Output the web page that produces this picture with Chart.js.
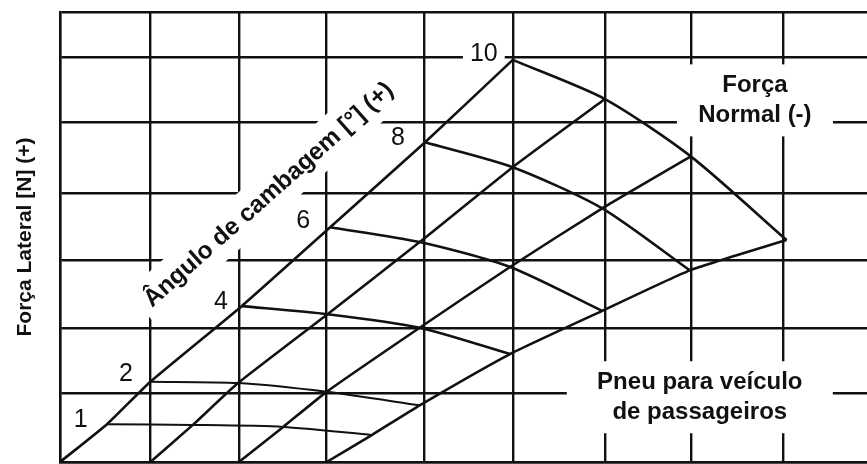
<!DOCTYPE html>
<html>
<head>
<meta charset="utf-8">
<script src="https://cdn.jsdelivr.net/npm/chart.js@4.4.1/dist/chart.umd.min.js"></script>
<style>
  html, body { margin: 0; padding: 0; background: #fff; }
  #chart { display: block; }
</style>
</head>
<body>
<canvas id="chart" width="867" height="464"></canvas>
<script>
// Ângulo de cambagem [°] de cada curva
const camberAngles = [1, 2, 4, 6, 8, 10];

// Nós da malha (unidades de grade): uma linha por ângulo, uma coluna por força normal
const nodeX = [
  [0.52, 1.47, 2.47, 3.45],
  [1.00, 1.97, 2.95, 3.98],
  [2.01, 2.96, 3.98, 4.98],
  [2.99, 3.98, 4.98, 6.00],
  [4.04, 5.01, 6.00, 6.97],
  [5.01, 6.03, 6.98, 8.04]
];
const nodeY = [
  [0.56, 0.55, 0.52, 0.40],
  [1.19, 1.17, 1.04, 0.84],
  [2.31, 2.19, 1.99, 1.60],
  [3.48, 3.26, 2.89, 2.24],
  [4.74, 4.37, 3.76, 2.84],
  [5.96, 5.38, 4.53, 3.29]
];
// onde cada linha de força normal chega ao eixo (cambagem 0)
const baseX = [0, 1.00, 1.98, 2.95];

// linhas da grade
const gridX = [0, 1.00, 1.98, 2.95, 4.03, 5.01, 6.03, 6.98, 8.00];
const gridY = [0, 1.02, 1.99, 2.99, 3.99, 5.04, 6.00, 6.67];

// posição dos números de cambagem
const numberX = [0.23, 0.73, 1.78, 2.69, 3.74, 4.69];
const numberY = [0.64, 1.32, 2.39, 3.59, 4.81, 6.06];

const LABEL_FONT = "bold 24px 'Liberation Sans'";
const TITLE_FONT = "bold 24.5px 'Liberation Sans'";
const NUMBER_FONT = "25px 'Liberation Sans'";
const INK = "#111";

const notes = [
  { lines: ["Força", "Normal (-)"], x: 7.69, y: 5.36, box: [156, 72] },
  { lines: ["Pneu para veículo", "de passageiros"], x: 7.08, y: 0.96, box: [266, 72] }
];
const camberTitle = { text: "Ângulo de cambagem [°] (+)", x: 2.31, y: 3.96, angle: -41.7 };

// curvas de cambagem constante
const camberSets = camberAngles.map((c, i) => ({
  label: c + "°",
  data: nodeX[i].map((x, j) => ({ x, y: nodeY[i][j] })),
  showLine: true,
  borderColor: INK,
  borderWidth: c <= 2 ? 2 : 2.6,
  pointRadius: 0,
  tension: 0.25
}));

// curvas de força normal constante
const forceSets = baseX.map((bx, j) => ({
  label: "N" + (j + 1),
  data: [{ x: bx, y: 0 }].concat(camberAngles.map((c, i) => ({ x: nodeX[i][j], y: nodeY[i][j] }))),
  showLine: true,
  borderColor: INK,
  borderWidth: 2.6,
  pointRadius: 0,
  tension: 0.15
}));

// textos com fundo branco por cima da grade
const labelPlugin = {
  id: "labels",
  beforeDatasetsDraw(chart) {
    const { ctx, scales: { x, y } } = chart;
    ctx.save();
    ctx.textAlign = "center";
    ctx.textBaseline = "middle";

    notes.forEach(n => {
      const px = x.getPixelForValue(n.x);
      const py = y.getPixelForValue(n.y);
      ctx.fillStyle = "#fff";
      ctx.fillRect(px - n.box[0] / 2, py - n.box[1] / 2, n.box[0], n.box[1]);
      ctx.fillStyle = INK;
      ctx.font = LABEL_FONT;
      n.lines.forEach((t, k) => ctx.fillText(t, px, py + (k - (n.lines.length - 1) / 2) * 30));
    });

    ctx.font = NUMBER_FONT;
    camberAngles.forEach((c, i) => {
      const px = x.getPixelForValue(numberX[i]);
      const py = y.getPixelForValue(numberY[i]);
      const w = ctx.measureText(String(c)).width;
      ctx.fillStyle = "#fff";
      ctx.fillRect(px - w / 2 - 7, py - 12, w + 14, 24);
      ctx.fillStyle = INK;
      ctx.fillText(String(c), px, py + 1);
    });

    // título inclinado ao longo da primeira curva
    const tx = x.getPixelForValue(camberTitle.x);
    const ty = y.getPixelForValue(camberTitle.y);
    ctx.translate(tx, ty);
    ctx.rotate(camberTitle.angle * Math.PI / 180);
    ctx.font = TITLE_FONT;
    const tw = ctx.measureText(camberTitle.text).width;
    ctx.fillStyle = "#fff";
    ctx.fillRect(-tw / 2 - 8, -22, tw + 12, 43);
    ctx.fillStyle = INK;
    ctx.fillText(camberTitle.text, 0, 0);
    ctx.restore();
  }
};

new Chart(document.getElementById("chart"), {
  type: "scatter",
  data: { datasets: camberSets.concat(forceSets) },
  options: {
    responsive: false,
    animation: false,
    layout: { padding: { top: 12, right: 0, bottom: 2, left: 0 } },
    plugins: { legend: { display: false }, tooltip: { enabled: false } },
    scales: {
      x: {
        type: "linear",
        min: 0,
        max: 8.93,
        afterBuildTicks: s => { s.ticks = gridX.map(v => ({ value: v })); },
        ticks: { display: false },
        grid: { color: INK, lineWidth: 2.4, drawTicks: false },
        border: { color: INK, width: 2.4 }
      },
      y: {
        type: "linear",
        min: 0,
        max: 6.67,
        afterBuildTicks: s => { s.ticks = gridY.map(v => ({ value: v })); },
        ticks: { display: false },
        grid: { color: INK, lineWidth: 2.4, drawTicks: false },
        border: { color: INK, width: 2.4 },
        title: {
          display: true,
          text: "Força Lateral [N] (+)",
          color: INK,
          font: { family: "'Liberation Sans'", size: 21, weight: "bold" },
          padding: { top: 12.4, bottom: 22.4 }
        }
      }
    }
  },
  plugins: [labelPlugin]
});
</script>
</body>
</html>
